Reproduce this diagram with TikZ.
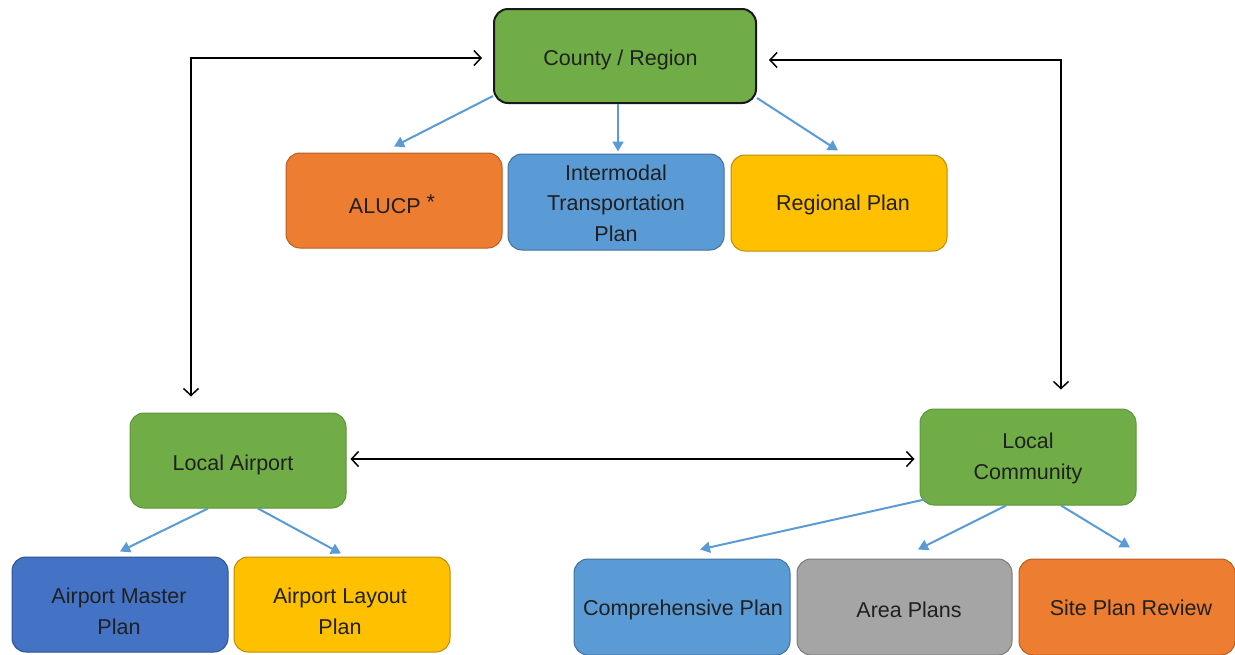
\documentclass[tikz,border=0pt]{standalone}
\usepackage{fontspec}
\setmainfont{Liberation Sans}
\usetikzlibrary{arrows.meta}
\definecolor{cgreen}{HTML}{70AD47}
\definecolor{cgreenb}{HTML}{5E963A}
\definecolor{corange}{HTML}{ED7D31}
\definecolor{coranb}{HTML}{B85F22}
\definecolor{cblue}{HTML}{5B9BD5}
\definecolor{cblueb}{HTML}{41719C}
\definecolor{cyellow}{HTML}{FFC000}
\definecolor{cyellb}{HTML}{BC8C00}
\definecolor{cdblue}{HTML}{4472C4}
\definecolor{cdblueb}{HTML}{2F528F}
\definecolor{cgray}{HTML}{A5A5A5}
\definecolor{cgrayb}{HTML}{7A7A7A}
\definecolor{ctext}{HTML}{202020}
\definecolor{carrow}{HTML}{5B9BD5}
\tikzset{
  box/.style={rectangle, rounded corners=14pt, minimum width=216pt, minimum height=95pt,
    inner sep=0pt, line width=1pt},
  lbl/.style={inner sep=0pt, align=center, text=ctext,
    font=\fontsize{21.5pt}{30.5pt}\selectfont},
  greenbox/.style={box, fill=cgreen, draw=cgreenb},
  orangebox/.style={box, fill=corange, draw=coranb},
  bluebox/.style={box, fill=cblue, draw=cblueb},
  yellowbox/.style={box, fill=cyellow, draw=cyellb},
  dbluebox/.style={box, fill=cdblue, draw=cdblueb},
  graybox/.style={box, fill=cgray, draw=cgrayb},
  bluearrow/.style={draw=carrow, line width=2pt, -{Triangle[length=10pt,width=11pt]}},
  blackarrow/.style={draw=black, line width=1.5pt, {Straight Barb[length=7pt,width=15pt]}-{Straight Barb[length=7pt,width=15pt]}}
}
\begin{document}
\begin{tikzpicture}[x=1pt,y=-1pt]
\useasboundingbox[fill=white] (0,0) rectangle (1235,654);
\node[greenbox, draw=black!90, line width=2pt, minimum width=262pt, minimum height=94pt,
  label={[lbl,xshift=-4.5pt,yshift=-4pt]center:County / Region}] (county) at (625,56) {};
\node[orangebox, label={[lbl,xshift=-2pt,yshift=-4pt]center:ALUCP \raisebox{4pt}{*}}] (alucp) at (394,200.5) {};
\node[bluebox, minimum height=96pt, label={[lbl,yshift=-1pt]center:Intermodal\\Transportation\\Plan}] (inter) at (616,202) {};
\node[yellowbox, minimum height=96pt, label={[lbl,xshift=4pt,yshift=-2pt]center:Regional Plan}] (regional) at (839,203) {};
\node[greenbox, label={[lbl,xshift=-5pt,yshift=-4pt]center:Local Airport}] (airport) at (238,460.5) {};
\node[greenbox, minimum height=96pt, label={[lbl,yshift=-1.5pt]center:Local\\Community}] (community) at (1028,457) {};
\node[dbluebox, label={[lbl,xshift=-1pt,yshift=-7pt]center:Airport Master\\Plan}] (amp) at (120,604.5) {};
\node[yellowbox, label={[lbl,xshift=-2pt,yshift=-7pt]center:Airport Layout\\Plan}] (alp) at (342,604.5) {};
\node[bluebox, minimum height=96pt, label={[lbl,xshift=1pt,yshift=-3pt]center:Comprehensive Plan}] (comp) at (682,607) {};
\node[graybox, minimum height=96pt, minimum width=215pt, label={[lbl,xshift=4.5pt,yshift=-3pt]center:Area Plans}] (area) at (904.5,607) {};
\node[orangebox, minimum height=96pt, label={[lbl,xshift=4pt,yshift=-1pt]center:Site Plan Review}] (site) at (1127,607) {};

\draw[bluearrow] ([yshift=8pt]county.south west) -- ([yshift=6pt]alucp.north);
\draw[bluearrow] ([xshift=-7pt]county.south) -- ([xshift=2pt,yshift=2pt]inter.north);
\draw[bluearrow] ([yshift=6pt]county.south east) -- ([xshift=-1pt,yshift=4pt]regional.north);
\draw[bluearrow] ([xshift=-30pt]airport.south) -- ([yshift=5pt]amp.north);
\draw[bluearrow] ([xshift=20pt]airport.south) -- ([xshift=-1pt,yshift=3pt]alp.north);
\draw[bluearrow] ([xshift=5pt,yshift=6pt]community.south west) -- ([xshift=18pt,yshift=9pt]comp.north);
\draw[bluearrow] ([xshift=-22pt]community.south) -- ([xshift=13.5pt,yshift=9pt]area.north);
\draw[bluearrow] ([xshift=33pt]community.south) -- ([xshift=3pt,yshift=11pt]site.north);

\draw[blackarrow] ([xshift=-11pt,yshift=-2pt]county.west) -| ([xshift=-47pt,yshift=16pt]airport.north);
\draw[blackarrow] ([xshift=12pt,yshift=-4pt]county.east) -| ([xshift=33pt,yshift=19pt]community.north);
\draw[blackarrow] ([xshift=4pt,yshift=1.5pt]airport.east) -- ([xshift=-5pt,yshift=-2pt]community.west);
\end{tikzpicture}
\end{document}
